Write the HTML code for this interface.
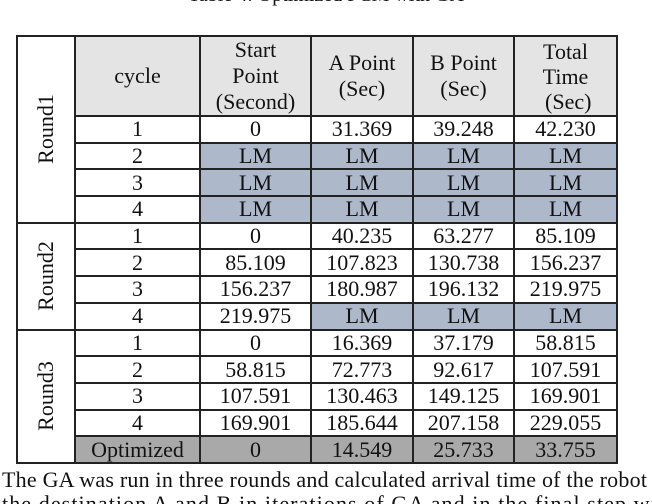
<!DOCTYPE html>
<html><head><meta charset="utf-8"><style>
body{margin:0;width:652px;height:504px;overflow:hidden;background:#fff;position:relative;font-family:"Liberation Serif",serif;color:#111}
#cap{position:absolute;left:0;width:652px;top:-15px;text-align:center;font-size:20px;line-height:20px}
table{position:absolute;left:16px;top:35px;width:600px;border-collapse:collapse;table-layout:fixed;font-size:22px}
td{border:2px solid #222;text-align:center;padding:0;height:24.7px;line-height:22px;overflow:hidden}
tr.h td{height:77px;background:#e4e4e4;line-height:26px}
td.lm{background:#adb9cb}
tr.o td{background:#a9a9a9}
tr.h td.r, td.r{background:#fff;position:relative}
.rot{position:absolute;left:50%;top:50%;transform:translate(-50%,-50%) rotate(-90deg);white-space:nowrap}
svg{position:absolute;left:0;top:0}
</style></head><body>
<div id="cap">Table 4: Optimized PCM with GA</div>
<table>
<colgroup><col style="width:58px"><col style="width:125px"><col style="width:111px"><col style="width:102px"><col style="width:101px"><col style="width:103px"></colgroup>
<tr class="h">
<td rowspan="5" class="r"><span class="rot">Round1</span></td>
<td>cycle</td>
<td>Start<br>Point<br>(Second)</td>
<td>A Point<br>(Sec)</td>
<td>B Point<br>(Sec)</td>
<td style="line-height:25px">Total<br>Time<br>&nbsp;(Sec)</td></tr>
<tr><td>1</td><td>0</td><td>31.369</td><td>39.248</td><td>42.230</td></tr>
<tr><td>2</td><td class="lm">LM</td><td class="lm">LM</td><td class="lm">LM</td><td class="lm">LM</td></tr>
<tr><td>3</td><td class="lm">LM</td><td class="lm">LM</td><td class="lm">LM</td><td class="lm">LM</td></tr>
<tr><td>4</td><td class="lm">LM</td><td class="lm">LM</td><td class="lm">LM</td><td class="lm">LM</td></tr>
<tr><td rowspan="4" class="r"><span class="rot">Round2</span></td><td>1</td><td>0</td><td>40.235</td><td>63.277</td><td>85.109</td></tr>
<tr><td>2</td><td>85.109</td><td>107.823</td><td>130.738</td><td>156.237</td></tr>
<tr><td>3</td><td>156.237</td><td>180.987</td><td>196.132</td><td>219.975</td></tr>
<tr><td>4</td><td>219.975</td><td class="lm">LM</td><td class="lm">LM</td><td class="lm">LM</td></tr>
<tr><td rowspan="5" class="r"><span class="rot">Round3</span></td><td>1</td><td>0</td><td>16.369</td><td>37.179</td><td>58.815</td></tr>
<tr><td>2</td><td>58.815</td><td>72.773</td><td>92.617</td><td>107.591</td></tr>
<tr><td>3</td><td>107.591</td><td>130.463</td><td>149.125</td><td>169.901</td></tr>
<tr><td>4</td><td>169.901</td><td>185.644</td><td>207.158</td><td>229.055</td></tr>
<tr class="o"><td>Optimized</td><td>0</td><td>14.549</td><td>25.733</td><td>33.755</td></tr>
</table>
<svg width="652" height="504">
<text x="2" y="487" font-size="22" font-family="Liberation Serif, serif" fill="#111" textLength="657" lengthAdjust="spacing">The GA was run in three rounds and calculated arrival time of the robot t</text>
<text x="2" y="511" font-size="22" font-family="Liberation Serif, serif" fill="#111" textLength="662" lengthAdjust="spacing">the destination A and B in iterations of GA and in the final step wit</text>
</svg>
</body></html>
